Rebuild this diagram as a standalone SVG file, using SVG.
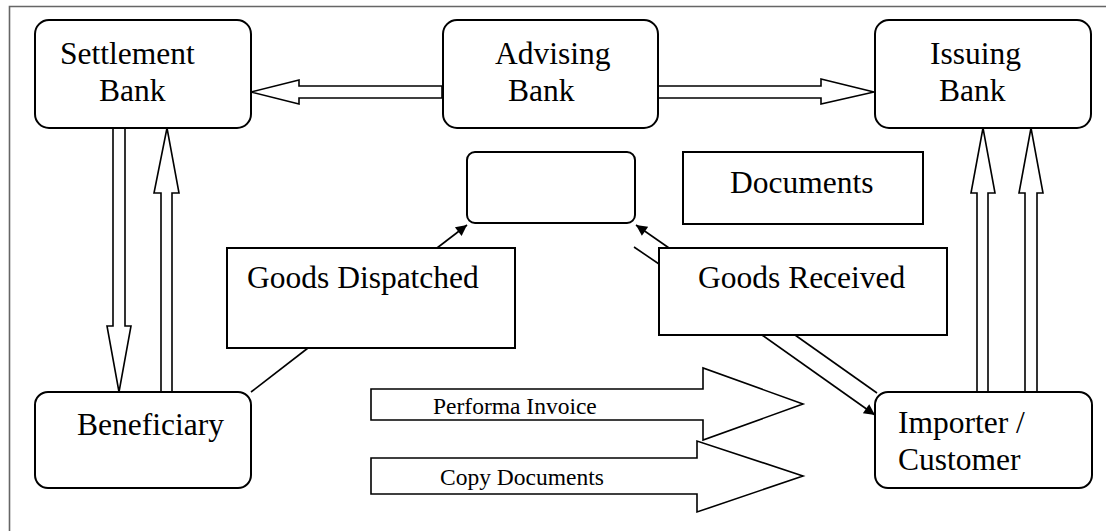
<svg xmlns="http://www.w3.org/2000/svg" width="1106" height="531" viewBox="0 0 1106 531">
<style>
.node{fill:#fff;stroke:#000;stroke-width:2}
.big{fill:#fff;stroke:#000;stroke-width:1.6;stroke-linejoin:miter}
.ln{fill:none;stroke:#000;stroke-width:1.6}
.t{font-family:"Liberation Serif","Times New Roman",serif;font-size:31.5px;fill:#000}
.s{font-family:"Liberation Serif","Times New Roman",serif;font-size:23.5px;fill:#000}
</style>
<defs>
<marker id="ah" viewBox="0 0 10 10" refX="10" refY="5" markerWidth="14" markerHeight="11" markerUnits="userSpaceOnUse" orient="auto">
<path d="M0,0 L10,5 L0,10 z" fill="#000"/>
</marker>
</defs>
<rect width="1106" height="531" fill="#fff"/>
<path d="M9.5,531 V6.5 H1106" fill="none" stroke="#666" stroke-width="1.6"/>

<g id="connectors">
<polygon class="big" points="442,86 299,86 299,80 251,92 299,104 299,98 442,98"/>
<polygon class="big" points="658,86 821,86 821,79 874,92 821,104 821,98 658,98"/>
<polygon class="big" points="113,128 125,128 125,326 131,326 119,392 107,326 113,326"/>
<polygon class="big" points="161,392 172,392 172,193 179,193 167,128 154,193 161,193"/>
<polygon class="big" points="977,392 988,392 988,193 995,193 983,128 971,193 977,193"/>
<polygon class="big" points="1025,392 1037,392 1037,193 1043,193 1031,128 1019,193 1025,193"/>
<polygon class="big" points="371,389 703,389 703,368 803,404 703,440 703,420 371,420"/>
<polygon class="big" points="371,458 697,458 697,441 803,476 697,512 697,494 371,494"/>
<line class="ln" x1="251" y1="392" x2="308" y2="348"/>
<line class="ln" x1="437" y1="248" x2="467" y2="225" marker-end="url(#ah)"/>
<line class="ln" x1="669" y1="248" x2="636" y2="225" marker-end="url(#ah)"/>
<line class="ln" x1="634" y1="247" x2="659" y2="264"/>
<line class="ln" x1="762" y1="335" x2="875" y2="415" marker-end="url(#ah)"/>
<line class="ln" x1="795" y1="335" x2="877" y2="393"/>
</g>

<g id="settlement-bank">
<rect class="node" x="35" y="20" width="216" height="108" rx="14"/>
<text class="t" x="60" y="64">Settlement</text>
<text class="t" x="99" y="101">Bank</text>
</g>
<g id="advising-bank">
<rect class="node" x="443" y="20" width="215" height="108" rx="14"/>
<text class="t" x="495" y="64">Advising</text>
<text class="t" x="508" y="101">Bank</text>
</g>
<g id="issuing-bank">
<rect class="node" x="875" y="20" width="216" height="108" rx="14"/>
<text class="t" x="930" y="64">Issuing</text>
<text class="t" x="939" y="101">Bank</text>
</g>
<g id="empty-box">
<rect class="node" x="467" y="152" width="168" height="71" rx="8"/>
</g>
<g id="documents">
<rect class="node" x="683" y="152" width="240" height="72"/>
<text class="t" x="730" y="193">Documents</text>
</g>
<g id="goods-dispatched">
<rect class="node" x="227" y="248" width="288" height="100"/>
<text class="t" x="247" y="288">Goods Dispatched</text>
</g>
<g id="goods-received">
<rect class="node" x="659" y="248" width="288" height="87"/>
<text class="t" x="698" y="288">Goods Received</text>
</g>
<g id="beneficiary">
<rect class="node" x="35" y="392" width="216" height="96" rx="13"/>
<text class="t" x="77" y="435">Beneficiary</text>
</g>
<g id="importer">
<rect class="node" x="875" y="392" width="217" height="96" rx="13"/>
<text class="t" x="898" y="433">Importer /</text>
<text class="t" x="898" y="470">Customer</text>
</g>
<g id="labels">
<text class="s" x="433" y="414">Performa Invoice</text>
<text class="s" x="440" y="485">Copy Documents</text>
</g>
</svg>
